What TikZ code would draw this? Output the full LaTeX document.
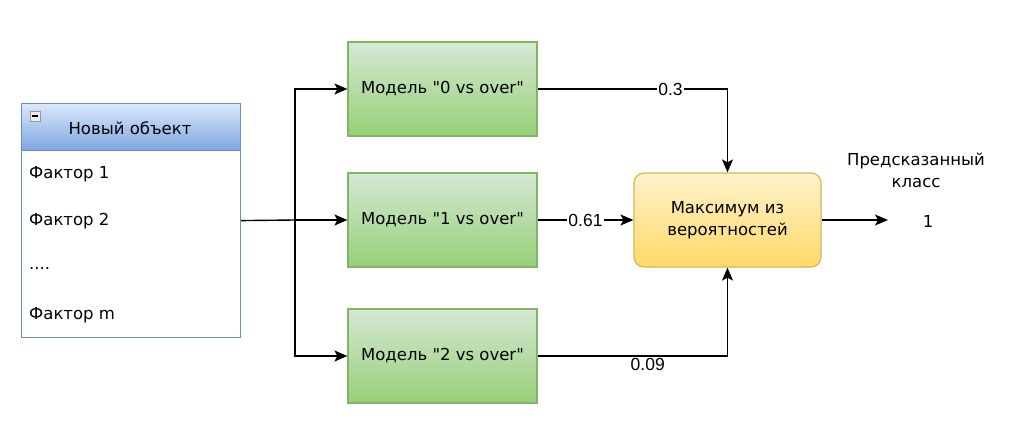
\documentclass[tikz,border=0pt]{standalone}
\usepackage{fontspec}
\setmainfont{DejaVu Sans}
\newfontfamily\numfont{Liberation Sans}
\usetikzlibrary{arrows.meta}

\definecolor{blueline}{HTML}{6C8EBF}
\definecolor{bluetop}{HTML}{DAE8FC}
\definecolor{bluebot}{HTML}{7EA6E0}
\definecolor{greenline}{HTML}{82B366}
\definecolor{greentop}{HTML}{D5E8D4}
\definecolor{greenbot}{HTML}{97D077}
\definecolor{orangeline}{HTML}{D6B656}
\definecolor{orangetop}{HTML}{FFF2CC}
\definecolor{orangebot}{HTML}{FFD966}

\begin{document}
\begin{tikzpicture}[x=1pt,y=-1pt,
    txt/.style={font=\fontsize{16.5}{22}\selectfont, inner sep=0pt},
    lbl/.style={font=\numfont\fontsize{17.5}{20}\selectfont, fill=white, inner sep=1pt},
    wire/.style={line width=1.4pt},
    arr/.style={wire, -{Stealth[length=13pt,width=11pt,inset=3pt]}},
    model/.style={txt, draw=greenline, line width=1.2pt, top color=greentop,
      bottom color=greenbot, minimum width=189pt, minimum height=94pt}]
  \useasboundingbox (0,0) rectangle (1017,433);

  % Object card
  \node[draw=blueline, line width=1.2pt, fill=white, minimum width=219pt,
    minimum height=234pt, inner sep=0pt, anchor=north west] (obj) at (21,103) {};
  \node[draw=blueline, line width=1.2pt, top color=bluetop, bottom color=bluebot,
    minimum width=219pt, minimum height=47pt, inner sep=0pt,
    anchor=north west] (objhead) at (21,103) {};
  \node[txt] (title) at (130,128) {Новый объект};
  \node[draw=gray!80, fill=gray!15, minimum size=10pt, inner sep=0pt] (tog) at (35,116) {};
  \draw[line width=1.2pt] ([xshift=2pt]tog.west) -- ([xshift=-2pt]tog.east);
  \foreach \t/\y [count=\i] in {Фактор 1/174, Фактор 2/221, {....}/268, Фактор m/315}
    \node[txt, anchor=west] (f\i) at (29,\y) {\t};

  % Models
  \node[model] (m0) at (442.5,89) {Модель \textquotedbl 0 vs over\textquotedbl};
  \node[model] (m1) at (442.5,220) {Модель \textquotedbl 1 vs over\textquotedbl};
  \node[model] (m2) at (442.5,356) {Модель \textquotedbl 2 vs over\textquotedbl};

  % Max of probabilities
  \node[txt, draw=orangeline, line width=1.2pt, top color=orangetop,
    bottom color=orangebot, rounded corners=10pt, minimum width=187pt,
    minimum height=94pt, align=center] (maxp) at (727.5,220)
    {Максимум из\\вероятностей};

  % Split to models
  \coordinate (split) at (295,220);
  \draw[wire] (obj.east) -- (split);
  \draw[arr] (split) |- (m0.west);
  \draw[arr] (split) -- (m1.west);
  \draw[arr] (split) |- (m2.west);

  % Probabilities
  \draw[arr] (m0.east) -| node[lbl, pos=0.35] {0.3} (maxp.north);
  \draw[arr] (m1.east) -- node[lbl, pos=0.5] {0.61} (maxp.west);
  \draw[arr] (m2.east) -| node[lbl, pos=0.29, yshift=-8pt] {0.09} (maxp.south);

  % Result
  \coordinate (out) at (888,220);
  \draw[arr] (maxp.east) -- (out);
  \node[txt] (cls) at (928,221) {1};
  \node[txt, align=center] (clshead) at (916,170) {Предсказанный\\класс};
\end{tikzpicture}
\end{document}
